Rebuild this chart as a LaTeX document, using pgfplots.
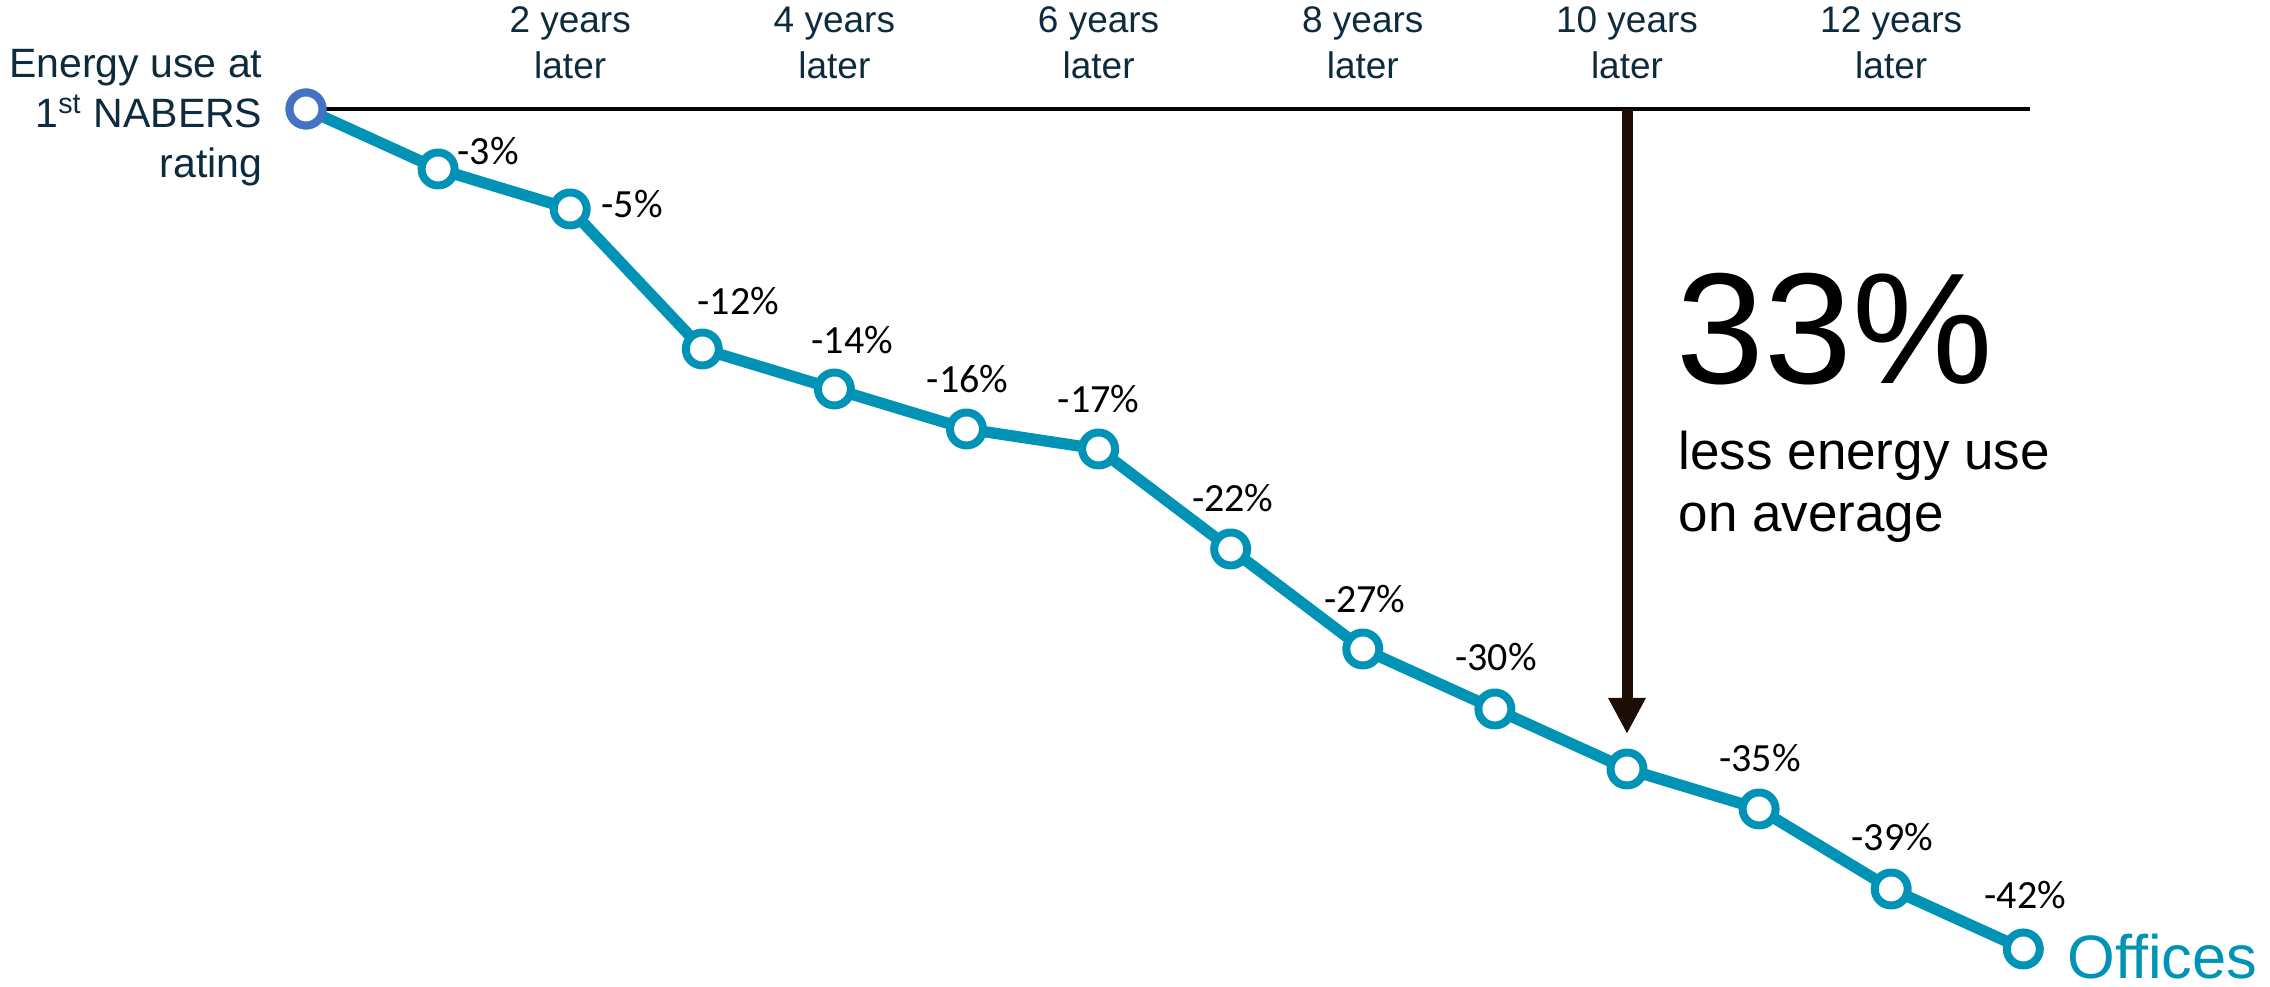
\documentclass[border=0pt]{standalone}
\usepackage{fontspec}
\setmainfont{Liberation Sans}
\newfontfamily\calibri{Carlito}
\usepackage{pgfplots}
\usepackage{pgfplotstable}
\pgfplotsset{compat=1.18}
\usetikzlibrary{arrows.meta}

\definecolor{offteal}{RGB}{0,147,182}
\definecolor{firstblue}{RGB}{68,114,196}
\definecolor{navy}{RGB}{14,43,62}
\definecolor{arrowbrown}{RGB}{28,14,5}

% scale: 1 px of the reference = 0.3pt
\pgfplotstableread{
x y
0 0
1 -3
2 -5
3 -12
4 -14
5 -16
6 -17
7 -22
8 -27
9 -30
10 -33
11 -35
12 -39
13 -42
}\offices

% label offsets (dx, dy) in px from the point
\pgfplotstableread{
x y lbl dx dy
1 -3 -3 50 18
2 -5 -5 62 5
3 -12 -12 36 48
4 -14 -14 18 49
5 -16 -16 1 50
6 -17 -17 0 50
7 -22 -22 2 51
8 -27 -27 2 50
9 -30 -30 1 52
11 -35 -35 1 51
12 -39 -39 1 52
13 -42 -42 2 54
}\labels

\begin{document}
\begin{tikzpicture}
\useasboundingbox (-91.8pt,-11.4pt) rectangle (589.2pt,284.7pt);
\begin{axis}[
    at={(0,0)}, anchor=south west,
    scale only axis,
    width=515.19pt, height=252pt,
    xmin=0, xmax=13, ymin=-42, ymax=0,
    enlargelimits=false,
    axis lines=none,
    clip=false,
]
% baseline and the 10-year arrow
\addplot[black, line width=1.2pt] coordinates {(0,0) (13.05,0)};
\addplot[arrowbrown, line width=3.3pt, -{Triangle[width=10.5pt,length=10.8pt]}]
    coordinates {(10,0) (10,-31.25)};

\addplot[offteal, line width=3.4pt, line join=round, mark=*, mark size=4.95pt,
    mark options={fill=white, line width=2.4pt}] table {\offices};
\addplot[firstblue, mark=*, mark size=4.95pt,
    mark options={fill=white, line width=2.4pt}] coordinates {(0,0)};

\addplot[only marks, mark=*, mark size=0pt,
    scatter/use mapped color={draw=none, fill=none},
    mark options={draw=none, fill=none},
    point meta=explicit symbolic,
    visualization depends on=\thisrow{dx}\as\dx,
    visualization depends on=\thisrow{dy}\as\dy,
    nodes near coords={\pgfplotspointmeta\%},
    every node near coord/.append style={anchor=center, inner sep=0pt,
        xshift=\dx*0.3pt, yshift=\dy*0.3pt,
        font=\calibri\fontsize{12}{14}\selectfont, text=black},
] table[meta=lbl] {\labels};

% column headings
\pgfplotsinvokeforeach{2,4,6,8,10,12}{
    \node[anchor=base, inner sep=0pt, text=navy, font=\fontsize{11.1}{13.8}\selectfont]
        at (axis cs:#1,3.8) {#1 years};
    \node[anchor=base, inner sep=0pt, text=navy, font=\fontsize{11.1}{13.8}\selectfont]
        at (axis cs:#1,1.5) {later};
}

\node[anchor=base east, inner sep=0pt, text=navy, font=\fontsize{12.3}{15}\selectfont]
    at (axis cs:-0.3255,1.55) {Energy use at};
\node[anchor=base east, inner sep=0pt, text=navy, font=\fontsize{12.3}{15}\selectfont]
    at (axis cs:-0.3255,-0.95) {1\textsuperscript{st} NABERS};
\node[anchor=base east, inner sep=0pt, text=navy, font=\fontsize{12.3}{15}\selectfont]
    at (axis cs:-0.3255,-3.45) {rating};

\node[anchor=base west, inner sep=0pt, font=\fontsize{47.4}{50}\selectfont]
    at (axis cs:10.37,-13.75) {33\%};
\node[anchor=base west, inner sep=0pt, font=\fontsize{15.9}{18}\selectfont]
    at (axis cs:10.386,-18.05) {less energy use};
\node[anchor=base west, inner sep=0pt, font=\fontsize{15.9}{18}\selectfont]
    at (axis cs:10.386,-21.15) {on average};

\node[anchor=base west, inner sep=0pt, text=offteal, font=\fontsize{18.4}{22}\selectfont]
    at (axis cs:13.33,-43.5) {Offices};
\end{axis}
\end{tikzpicture}
\end{document}
